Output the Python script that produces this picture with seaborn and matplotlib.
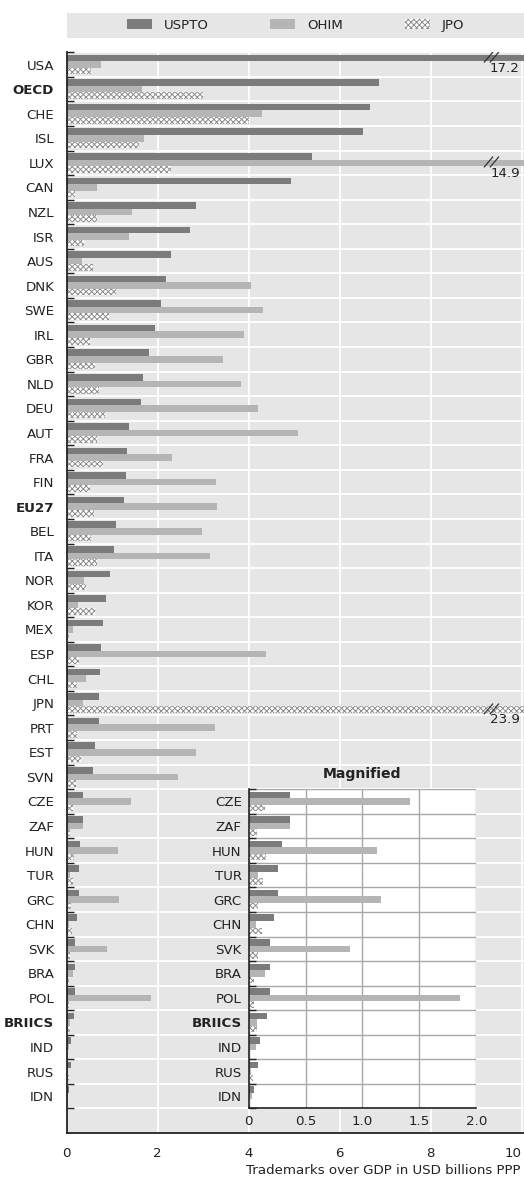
import numpy as np
import pandas as pd
import seaborn as sns
import matplotlib
matplotlib.use("Agg")
import matplotlib.pyplot as plt
from matplotlib.patches import Patch, Rectangle

sns.set_theme(style="ticks")
plt.rcParams['font.family'] = ['Liberation Sans Narrow', 'DejaVu Sans']
plt.rcParams['hatch.linewidth'] = 0.7

countries = ["USA", "OECD", "CHE", "ISL", "LUX", "CAN", "NZL", "ISR", "AUS", "DNK",
             "SWE", "IRL", "GBR", "NLD", "DEU", "AUT", "FRA", "FIN", "EU27", "BEL",
             "ITA", "NOR", "KOR", "MEX", "ESP", "CHL", "JPN", "PRT", "EST", "SVN",
             "CZE", "ZAF", "HUN", "TUR", "GRC", "CHN", "SVK", "BRA", "POL", "BRIICS",
             "IND", "RUS", "IDN"]
uspto = [17.2, 6.86, 6.67, 6.51, 5.38, 4.94, 2.85, 2.70, 2.29, 2.18,
         2.07, 1.93, 1.80, 1.67, 1.63, 1.38, 1.32, 1.30, 1.25, 1.08,
         1.05, 0.95, 0.86, 0.79, 0.75, 0.73, 0.70, 0.70, 0.62, 0.57,
         0.36, 0.36, 0.29, 0.26, 0.26, 0.22, 0.19, 0.19, 0.19, 0.16,
         0.10, 0.085, 0.05]
ohim = [0.75, 1.65, 4.30, 1.69, 14.9, 0.66, 1.43, 1.36, 0.33, 4.06,
        4.32, 3.90, 3.44, 3.82, 4.21, 5.09, 2.31, 3.29, 3.31, 2.98,
        3.14, 0.37, 0.24, 0.13, 4.37, 0.42, 0.35, 3.27, 2.85, 2.44,
        1.42, 0.36, 1.13, 0.08, 1.16, 0.06, 0.89, 0.14, 1.86, 0.07,
        0.06, 0.02, 0.03]
jpo = [0.53, 3.0, 4.01, 1.58, 2.29, 0.19, 0.66, 0.37, 0.57, 1.08,
       0.92, 0.51, 0.62, 0.72, 0.84, 0.66, 0.79, 0.51, 0.59, 0.53,
       0.66, 0.42, 0.62, 0.04, 0.26, 0.22, 23.9, 0.22, 0.31, 0.20,
       0.14, 0.07, 0.155, 0.13, 0.085, 0.12, 0.08, 0.05, 0.05, 0.076,
       0.015, 0.04, 0.015]
offices = ["USPTO", "OHIM", "JPO"]
magnified = countries[30:]
bold_labels = ["OECD", "EU27", "BRIICS"]

c_us, c_oh, c_bg = "#7b7b7b", "#b5b5b5", "#e6e6e6"
hatch_col = "#8c8c8c"
hatch = "xxxxxx"
fs = 9.6

df = pd.DataFrame({
    "country": countries * 3,
    "office": np.repeat(offices, len(countries)),
    "value": uspto + ohim + jpo,
})

W, H = 524, 1180
fig = plt.figure(figsize=(W / 100, H / 100), dpi=100)
xmax = 10.05
ax = fig.add_axes([66.7 / W, 1 - 1133 / H, 1 - 66.7 / W, (1133 - 52.3) / H])


def draw_bars(axis, data):
    sns.barplot(data=data, y="country", x="value", hue="office", hue_order=offices,
                palette=[c_us, c_oh, "white"], orient="h", width=0.8, saturation=1,
                errorbar=None, legend=False, ax=axis, zorder=2)
    for p in axis.containers[2]:
        p.set_hatch(hatch)
        p.set_edgecolor(hatch_col)
        p.set_linewidth(0)
    for cont in axis.containers[:2]:
        for p in cont:
            p.set_linewidth(0)


def style_ticks(axis, n, pad):
    axis.set_yticks(np.arange(-0.5, n, 1), minor=True)
    axis.tick_params(axis="y", which="major", length=0, pad=pad, labelsize=fs, colors="#222222")
    axis.tick_params(axis="y", which="minor", direction="in", length=5, width=1, color="#222222")
    axis.tick_params(axis="x", which="both", length=0, labelsize=fs, colors="#222222")
    for lab in axis.get_yticklabels():
        if lab.get_text() in bold_labels:
            lab.set_fontweight("bold")
    axis.set_ylabel("")
    axis.set_xlabel("")


# main chart
draw_bars(ax, df)
ax.set_facecolor(c_bg)
ax.set_xlim(0, xmax)
ax.set_ylim(len(countries) + 0.5, -0.5)
ax.set_xticks([0, 2, 4, 6, 8, 10])
ax.set_xticklabels(["0", "2", "4", "6", "8", "10"])
ax.get_xticklabels()[-1].set_ha("right")
style_ticks(ax, len(countries), 9)
ax.tick_params(axis="x", pad=10)
ax.set_axisbelow(True)
ax.grid(axis="x", which="major", color="white", lw=1.3)
ax.grid(axis="y", which="minor", color="white", lw=1.3)
for s in ["top", "right"]:
    ax.spines[s].set_visible(False)
for s in ["left", "bottom"]:
    ax.spines[s].set_color("#222222")
    ax.spines[s].set_linewidth(1.3)
ax.set_xlabel("Trademarks over GDP in USD billions PPP", loc="right", fontsize=fs,
              color="#222222", labelpad=3)
ax.xaxis.label.set_x(0.993)

# broken bars: marks and values
for cont in ax.containers:
    for p in cont:
        v = p.get_width()
        if v > xmax:
            y0, h = p.get_y(), p.get_height()
            for dx in (0, 0.13):
                ax.plot([9.17 + dx, 9.37 + dx], [y0 + h + 0.05, y0 - 0.12],
                        color="#333333", lw=0.9, zorder=4, solid_capstyle="butt")
            ax.text(9.96, y0 + h + 0.02, f"{v:.1f}", ha="right", va="top",
                    fontsize=fs, color="#222222", zorder=4)

# magnified inset
axin = ax.inset_axes([4 / xmax, 1 / 44, 5 / xmax, 13 / 44])
draw_bars(axin, df[df["country"].isin(magnified)])
axin.set_facecolor("white")
axin.set_xlim(0, 2.0)
axin.set_ylim(len(magnified) - 0.5, -0.5)
axin.set_xticks([0, 0.5, 1.0, 1.5, 2.0])
axin.set_xticklabels(["0", "0.5", "1.0", "1.5", "2.0"])
style_ticks(axin, len(magnified), 5)
axin.tick_params(axis="x", pad=5)
axin.set_axisbelow(True)
axin.grid(axis="x", which="major", color="#a8a8a8", lw=1.0)
axin.grid(axis="y", which="minor", color="#a8a8a8", lw=1.0)
for s in ["top", "right"]:
    axin.spines[s].set_visible(False)
for s in ["left", "bottom"]:
    axin.spines[s].set_color("#222222")
    axin.spines[s].set_linewidth(1.2)
axin.set_title("Magnified", fontsize=fs + 0.5, fontweight="bold", color="#222222", pad=8)

# legend strip
fig.patches.append(Rectangle((66.7 / W, 1 - 38 / H), 1 - 66.7 / W, 25 / H,
                             transform=fig.transFigure, facecolor=c_bg, edgecolor="none"))
handles = [Patch(facecolor=c_us, linewidth=0),
           Patch(facecolor=c_oh, linewidth=0),
           Patch(facecolor="white", hatch=hatch, edgecolor=hatch_col, linewidth=0)]
fig.legend(handles, offices, loc="center", bbox_to_anchor=(295.5 / W, 1 - 25.5 / H),
           ncol=3, frameon=False, fontsize=fs, handlelength=1.9, handleheight=0.75,
           handletextpad=0.9, columnspacing=4.6, labelcolor="#222222")

fig.savefig("out.png", dpi=100)
